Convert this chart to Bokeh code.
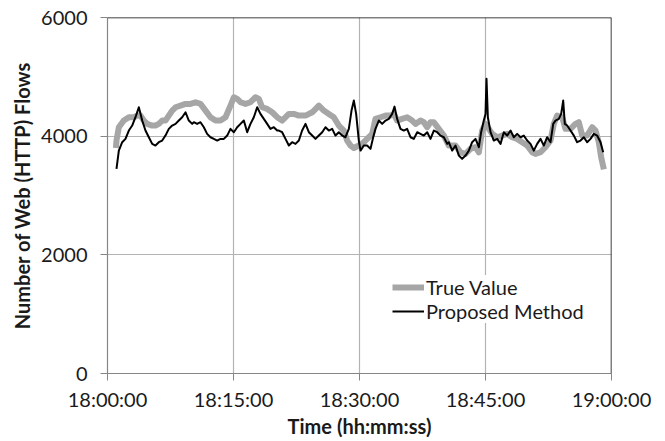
from bokeh.plotting import figure
from bokeh.models import FixedTicker, Span, Legend, LegendItem, Range1d
from bokeh.embed import file_html
from bokeh.resources import INLINE

# minutes after 18:00:00
true_minutes = [1.00, 1.07, 1.35, 1.94, 2.54, 3.13, 3.53, 3.93, 4.33, 4.72, 5.32, 5.71, 6.11, 6.51,
                6.90, 7.30, 7.70, 8.10, 8.69, 9.29, 9.88, 10.48, 11.07, 11.67, 12.26, 12.86,
                13.45, 14.05, 14.64, 15.04, 15.44, 15.83, 16.43, 17.02, 17.62, 18.02, 18.41,
                19.01, 19.60, 20.20, 20.79, 21.59, 22.18, 22.78, 23.57, 24.37, 25.16, 25.75,
                26.35, 26.94, 27.54, 28.13, 28.53, 28.93, 29.33, 29.92, 30.52, 30.91, 31.51,
                31.90, 32.50, 33.10, 33.69, 34.09, 34.48, 35.08, 35.67, 36.27, 36.67, 37.26,
                37.66, 38.06, 38.45, 38.85, 39.44, 40.04, 40.63, 41.43, 42.02, 42.62, 43.21,
                43.81, 44.21, 44.60, 45.00, 45.40, 45.79, 46.39, 46.98, 47.58, 48.17, 48.77,
                49.37, 49.96, 50.56, 50.95, 51.55, 52.14, 52.74, 53.13, 53.53, 54.13, 54.52,
                55.12, 55.71, 56.11, 56.51, 57.10, 57.70, 58.10, 58.49, 58.77, 59.09]
true_values = [3800, 3926, 4151, 4263, 4319, 4319, 4347, 4347, 4263, 4207, 4179, 4179, 4207, 4263,
               4263, 4347, 4431, 4487, 4515, 4544, 4544, 4572, 4544, 4431, 4319, 4263,
               4263, 4319, 4515, 4656, 4628, 4572, 4544, 4572, 4656, 4628, 4487,
               4459, 4403, 4319, 4263, 4375, 4375, 4347, 4347, 4403, 4515, 4431,
               4375, 4319, 4179, 4095, 3926, 3842, 3800, 3842, 3898, 3954, 4039,
               4291, 4319, 4347, 4347, 4375, 4263, 4291, 4319, 4263, 4207, 4263,
               4235, 4151, 4235, 4235, 4123, 4010, 3842, 3842, 3729, 3701, 3786,
               3814, 3729, 4095, 4207, 4123, 4039, 3982, 4010, 4039, 3982, 3954,
               3898, 3842, 3729, 3701, 3729, 3814, 3926, 4207, 4347, 4319, 4123,
               4123, 4207, 4235, 4010, 4010, 4151, 4095, 3898, 3645, 3441]

est_minutes = [1.07, 1.35, 1.75, 2.14, 2.54, 2.94, 3.33, 3.73, 4.13, 4.52, 4.92, 5.32, 5.71, 6.11,
               6.51, 6.90, 7.30, 7.70, 8.10, 8.49, 8.89, 9.29, 9.68, 10.08, 10.28, 10.67, 11.07,
               11.47, 11.86, 12.26, 12.66, 13.06, 13.45, 13.85, 14.25, 14.64, 15.04, 15.44,
               15.83, 16.23, 16.63, 17.02, 17.42, 17.82, 18.21, 18.61, 19.01, 19.40, 19.80,
               20.20, 20.40, 20.79, 21.19, 21.59, 21.98, 22.38, 22.78, 23.17, 23.57, 23.97,
               24.37, 24.76, 25.16, 25.56, 25.95, 26.35, 26.75, 27.14, 27.54, 27.94, 28.33,
               28.73, 29.05, 29.33, 29.60, 29.92, 30.12, 30.52, 30.91, 31.31, 31.63, 31.90,
               32.30, 32.70, 33.10, 33.49, 33.89, 34.17, 34.48, 34.88, 35.28, 35.67, 36.07,
               36.47, 36.87, 37.26, 37.66, 38.06, 38.45, 38.85, 39.25, 39.64, 40.04, 40.44,
               40.63, 41.03, 41.43, 41.83, 42.22, 42.62, 43.02, 43.41, 43.81, 44.21, 44.48,
               44.80, 45.00, 45.12, 45.28, 45.60, 45.99, 46.39, 46.79, 47.18, 47.58, 47.98,
               48.37, 48.77, 49.17, 49.56, 49.96, 50.36, 50.75, 51.15, 51.55, 51.94, 52.34,
               52.74, 53.06, 53.33, 53.73, 54.01, 54.25, 54.44, 54.72, 55.12, 55.52, 55.91,
               56.31, 56.71, 57.10, 57.50, 57.90, 58.29, 58.69, 59.01]
est_values = [3449, 3757, 3898, 3954, 4095, 4179, 4319, 4487, 4263, 4095, 3982, 3870, 3842, 3898,
              3926, 4010, 4123, 4179, 4207, 4263, 4319, 4403, 4263, 4207, 4235, 4207, 4235,
              4151, 4039, 3982, 3954, 3926, 3954, 3954, 4010, 4123, 4067, 4151,
              4207, 4263, 4067, 4207, 4319, 4487, 4375, 4291, 4207, 4123, 4151,
              4095, 4095, 4067, 3954, 3842, 3898, 3870, 3926, 4095, 4207, 4067,
              4010, 3954, 4010, 4067, 4151, 4095, 4123, 4010, 4067, 4010, 3982,
              4123, 4431, 4600, 4375, 3926, 3757, 3842, 3842, 3786, 3982, 4123,
              4263, 4207, 4263, 4291, 4375, 4498, 4291, 4123, 4095, 4123, 3982,
              3954, 4067, 4039, 4010, 4067, 3954, 4095, 4067, 4010, 3982, 3870,
              3898, 3757, 3842, 3673, 3617, 3673, 3757, 3898, 3954, 3814, 4067,
              4263, 4375, 4966, 4319, 4067, 3926, 3954, 3870, 4067, 4010, 4095,
              3982, 4039, 3982, 4010, 3926, 3870, 3757, 3870, 3954, 3842, 3982,
              3898, 4207, 4263, 4291, 4375, 4600, 4207, 4179, 4095, 4010, 3898,
              3926, 3982, 3898, 3954, 4039, 4010, 3898, 3729]

x_ticks = [0, 15, 30, 45, 60]
x_tick_labels = ["18:00:00", "18:15:00", "18:30:00", "18:45:00", "19:00:00"]
y_ticks = [0, 2000, 4000, 6000]

FONT = "Lato"
TXT = "#1a1a1a"

p = figure(width=665, height=441, output_backend="svg", toolbar_location=None,
           x_range=Range1d(0, 60), y_range=Range1d(0, 6000),
           min_border_left=107, min_border_right=54, min_border_top=17, min_border_bottom=68)
p.outline_line_color = None
p.background_fill_color = "white"
p.border_fill_color = "white"

r_true = p.line(true_minutes, true_values, line_color="#a6a6a6", line_width=6, line_join="round")
r_est = p.line(est_minutes, est_values, line_color="black", line_width=2, line_join="round")

# axes
xa = p.xaxis[0]
xa.ticker = FixedTicker(ticks=x_ticks)
xa.major_label_overrides = {float(t): l for t, l in zip(x_ticks, x_tick_labels)}
ya = p.yaxis[0]
ya.ticker = FixedTicker(ticks=y_ticks)
for ax in (xa, ya):
    ax.axis_line_color = "#868686"
    ax.axis_line_width = 1.2
    ax.major_tick_line_color = "#868686"
    ax.major_tick_in = 0
    ax.major_tick_out = 7
    ax.minor_tick_line_color = None
    ax.major_label_text_font = FONT
    ax.major_label_text_font_size = "20px"
    ax.major_label_text_color = TXT
    ax.axis_label_text_font = FONT
    ax.axis_label_text_font_style = "bold"
    ax.axis_label_text_font_size = "20px"
    ax.axis_label_text_color = TXT
xa.axis_label = "Time (hh:mm:ss)"
ya.axis_label = "Number of Web (HTTP) Flows"
xa.major_label_standoff = 6
ya.major_label_standoff = 13
xa.axis_label_standoff = 0
ya.axis_label_standoff = 4

p.xgrid.ticker = FixedTicker(ticks=x_ticks)
p.ygrid.ticker = FixedTicker(ticks=y_ticks)
p.grid.grid_line_color = "#b3b3b3"
p.grid.grid_line_width = 1.2

p.add_layout(Span(location=6000, dimension="width", line_color="black", line_width=1.5))
p.add_layout(Span(location=60, dimension="height", line_color="black", line_width=1.5))

legend = Legend(items=[LegendItem(label="True Value", renderers=[r_true]),
                       LegendItem(label="Proposed Method", renderers=[r_est])],
                location=(285, 50), padding=8, margin=0, spacing=0,
                glyph_width=32, glyph_height=24, label_height=24, label_standoff=2,
                label_text_font=FONT, label_text_font_size="20px", label_text_color=TXT,
                border_line_color=None, background_fill_color="white", background_fill_alpha=1)
p.add_layout(legend)

open("out.html", "w").write(file_html(p, INLINE))
